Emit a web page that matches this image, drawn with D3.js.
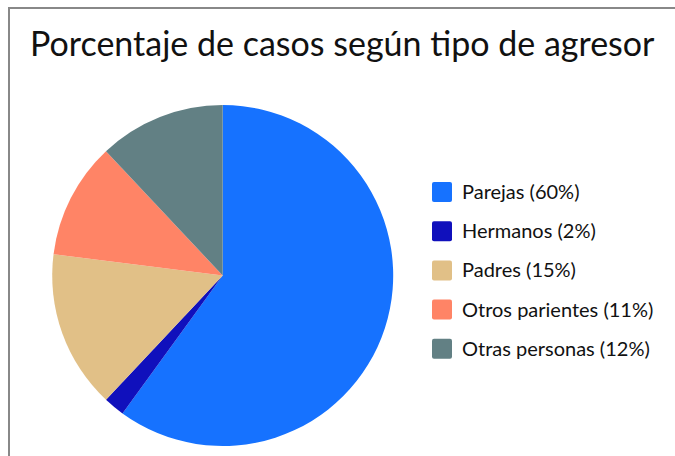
<!DOCTYPE html>
<html><head><meta charset="utf-8">
<script src="https://cdn.jsdelivr.net/npm/d3@7"></script>
<style>body{margin:0;background:#fff;}svg{display:block;font-family:Lato,'Open Sans',sans-serif;}</style>
</head><body>
<svg id="c" width="675" height="456"></svg>
<script>
const categories = ["Parejas", "Hermanos", "Padres", "Otros parientes", "Otras personas"];
const values = [60, 2, 15, 11, 12];
const colors = ["#1672FF", "#1010BC", "#E1C087", "#FF8466", "#628084"];
const title = "Porcentaje de casos según tipo de agresor";

const svg = d3.select("#c");
svg.append("rect").attr("x", 9).attr("y", 8).attr("width", 700).attr("height", 500)
  .attr("fill", "#fff").attr("stroke", "#888").attr("stroke-width", 2);

svg.append("text").attr("x", 30).attr("y", 56).attr("font-size", 34).attr("fill", "#111")
  .text(title);

const data = categories.map((c, i) => ({ c, v: values[i], col: colors[i] }));
const pie = d3.pie().value(d => d.v).sort(null);
const arc = d3.arc().innerRadius(0).outerRadius(170.5);
const g = svg.append("g").attr("transform", "translate(222.7,275.5)");
g.selectAll("path").data(pie(data)).join("path")
  .attr("d", arc).attr("fill", d => d.data.col);

const y = d3.scaleBand().domain(categories).range([173, 369]);
const lg = svg.append("g");
const rows = lg.selectAll("g").data(data).join("g")
  .attr("transform", d => `translate(432,${y(d.c)})`);
rows.append("rect").attr("width", 20).attr("height", 20).attr("y", 9).attr("rx", 2)
  .attr("fill", d => d.col);
rows.append("text").attr("x", 30).attr("y", 26).attr("font-size", 20).attr("fill", "#111")
  .text(d => `${d.c} (${d.v}%)`);
</script>
</body></html>
